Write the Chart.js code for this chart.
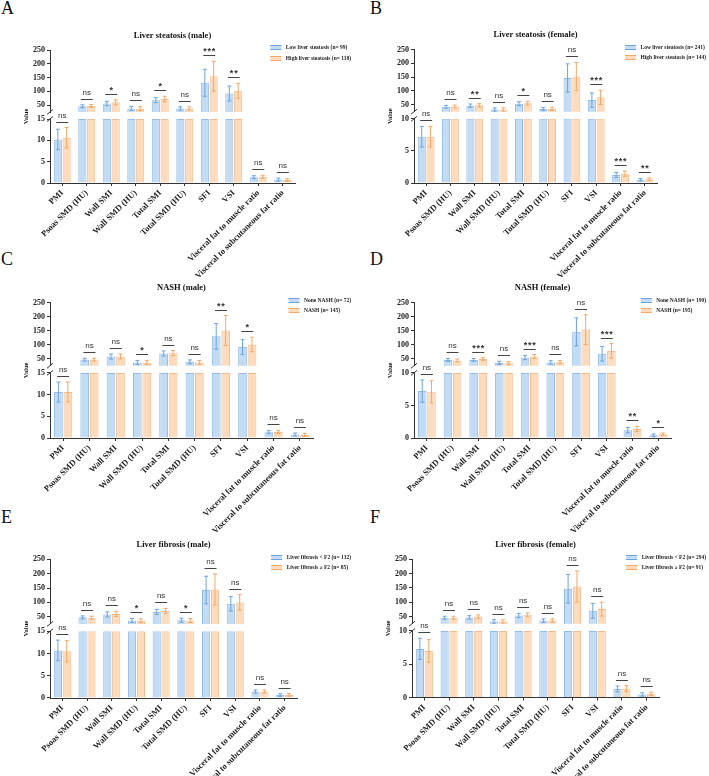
<!DOCTYPE html>
<html>
<head>
<meta charset="utf-8">
<script src="https://cdn.jsdelivr.net/npm/chart.js@4.4.1/dist/chart.umd.min.js"></script>
<style>
html, body { margin: 0; padding: 0; background: #fff; }
body { width: 709px; height: 776px; position: relative; overflow: hidden; }
canvas { position: absolute; }
.letter { position: absolute; font-family: "Liberation Serif", serif; font-size: 18px; line-height: 18px; color: #111; }
</style>
</head>
<body>
<div class="letter" style="left:1px;top:-1px">A</div>
<div class="letter" style="left:370px;top:-1px">B</div>
<div class="letter" style="left:1px;top:250px">C</div>
<div class="letter" style="left:370px;top:250px">D</div>
<div class="letter" style="left:1px;top:508px">E</div>
<div class="letter" style="left:370px;top:508px">F</div>

<canvas id="pA" width="354" height="280" style="left:0;top:0"></canvas>
<canvas id="pB" width="355" height="280" style="left:354px;top:0"></canvas>
<canvas id="pC" width="354" height="280" style="left:0;top:255px"></canvas>
<canvas id="pD" width="355" height="280" style="left:354px;top:255px"></canvas>
<canvas id="pE" width="354" height="280" style="left:0;top:515px"></canvas>
<canvas id="pF" width="355" height="280" style="left:354px;top:515px"></canvas>

<script>
const categories = ['PMI', 'Psoas SMD (HU)', 'Wall SMI', 'Wall SMD (HU)', 'Total SMI', 'Total SMD (HU)', 'SFI', 'VSI',
    'Visceral fat to muscle ratio', 'Visceral to subcutaneous fat ratio'];
const upperTicks = [50, 100, 150, 200, 250];
const upperMin = 25;
const lowerTicksMale = [0, 5, 10, 15];
const lowerTicksFemale = [0, 5, 10];

// A - liver steatosis, male
const steatosisMaleLow = [10.2, 46, 56, 38, 68, 38, 131, 92, 1.35, 0.8];
const steatosisMaleLowSD = [2.4, 5, 8, 7, 9, 6, 49, 27, 0.35, 0.35];
const steatosisMaleHigh = [10.6, 47, 60, 37, 72, 38, 155, 102, 1.45, 0.7];
const steatosisMaleHighSD = [2.4, 5, 9, 7, 10, 6, 54, 27, 0.35, 0.3];
const steatosisMaleSig = ['ns', 'ns', '*', 'ns', '*', 'ns', '***', '**', 'ns', 'ns'];

// B - liver steatosis, female
const steatosisFemaleLow = [7.2, 43, 47, 33, 54, 35, 147, 67, 1.25, 0.5];
const steatosisFemaleLowSD = [1.6, 5, 6, 6, 7, 6, 51, 26, 0.4, 0.2];
const steatosisFemaleHigh = [7.2, 44, 48, 33, 56, 35, 152, 77, 1.45, 0.58];
const steatosisFemaleHighSD = [1.6, 5, 6, 6, 7, 6, 51, 26, 0.4, 0.22];
const steatosisFemaleSig = ['ns', 'ns', '**', 'ns', '*', 'ns', 'ns', '***', '***', '**'];

// C - NASH, male
const nashMaleNone = [10.6, 47, 58, 37, 69, 39, 130, 92, 1.35, 0.8];
const nashMaleNoneSD = [2.3, 5, 9, 7, 9, 7, 46, 26, 0.35, 0.35];
const nashMaleYes = [10.6, 47, 58, 36, 70, 37, 151, 101, 1.4, 0.7];
const nashMaleYesSD = [2.3, 5, 9, 7, 9, 7, 53, 26, 0.35, 0.35];
const nashMaleSig = ['ns', 'ns', 'ns', '*', 'ns', 'ns', '**', '*', 'ns', 'ns'];

// D - NASH, female
const nashFemaleNone = [7.2, 46, 46, 35, 54, 37, 146, 68, 1.2, 0.42];
const nashFemaleNoneSD = [1.7, 5, 5, 6, 7, 6, 50, 26, 0.4, 0.2];
const nashFemaleYes = [7.1, 44, 49, 34, 58, 38, 154, 78, 1.4, 0.57];
const nashFemaleYesSD = [1.7, 5, 5, 6, 7, 6, 53, 26, 0.4, 0.2];
const nashFemaleSig = ['ns', 'ns', '***', 'ns', '***', 'ns', 'ns', '***', '**', '*'];

// E - liver fibrosis, male
const fibrosisMaleLow = [10.7, 48, 58, 37, 67, 38, 143, 95, 1.45, 0.65];
const fibrosisMaleLowSD = [2.3, 5, 9, 7, 9, 7, 48, 25, 0.35, 0.3];
const fibrosisMaleHigh = [10.5, 47, 60, 36, 70, 37, 145, 100, 1.45, 0.7];
const fibrosisMaleHighSD = [2.4, 5, 9, 7, 9, 7, 54, 27, 0.35, 0.3];
const fibrosisMaleSig = ['ns', 'ns', 'ns', '*', 'ns', '*', 'ns', 'ns', 'ns', 'ns'];

// F - liver fibrosis, female
const fibrosisFemaleLow = [7.3, 46, 47, 33, 54, 36, 147, 70, 1.28, 0.46];
const fibrosisFemaleLowSD = [1.6, 5, 6, 6, 7, 6, 50, 26, 0.45, 0.25];
const fibrosisFemaleHigh = [7.0, 46, 50, 33, 56, 36, 155, 76, 1.33, 0.55];
const fibrosisFemaleHighSD = [1.7, 5, 6, 6, 7, 6, 54, 24, 0.45, 0.25];
const fibrosisFemaleSig = ['ns', 'ns', 'ns', 'ns', 'ns', 'ns', 'ns', 'ns', 'ns', 'ns'];

const seriesColors = [
    { fill: '#c3dbf3', line: '#8fbce9', err: '#6ea4dc' },
    { fill: '#fddcbd', line: '#f6bb8c', err: '#f2a868' }
];
const serif = "'Liberation Serif', 'Times New Roman', serif";
const sans = "'Liberation Sans', Arial, sans-serif";

const panels = [
    { id: 'pA', title: 'Liver steatosis (male)',
      labels: ['Low liver steatosis (n= 99)', 'High liver steatosis (n= 118)'],
      means: [steatosisMaleLow, steatosisMaleHigh], sds: [steatosisMaleLowSD, steatosisMaleHighSD],
      sig: steatosisMaleSig, lowerTicks: lowerTicksMale,
      box: { left: 50, right: 295, top: 50, bottom: 183 } },
    { id: 'pB', title: 'Liver steatosis (female)',
      labels: ['Low liver steatosis (n= 241)', 'High liver steatosis (n= 144)'],
      means: [steatosisFemaleLow, steatosisFemaleHigh], sds: [steatosisFemaleLowSD, steatosisFemaleHighSD],
      sig: steatosisFemaleSig, lowerTicks: lowerTicksFemale,
      box: { left: 60, right: 303, top: 49.5, bottom: 183 } },
    { id: 'pC', title: 'NASH (male)',
      labels: ['None NASH (n= 72)', 'NASH (n= 145)'],
      means: [nashMaleNone, nashMaleYes], sds: [nashMaleNoneSD, nashMaleYesSD],
      sig: nashMaleSig, lowerTicks: lowerTicksMale,
      box: { left: 50, right: 313, top: 47.7, bottom: 183 } },
    { id: 'pD', title: 'NASH (female)',
      labels: ['None NASH (n= 190)', 'NASH (n= 195)'],
      means: [nashFemaleNone, nashFemaleYes], sds: [nashFemaleNoneSD, nashFemaleYesSD],
      sig: nashFemaleSig, lowerTicks: lowerTicksFemale,
      box: { left: 60, right: 317, top: 47.7, bottom: 183 } },
    { id: 'pE', title: 'Liver fibrosis (male)',
      labels: ['Liver fibrosis < F2 (n= 132)', 'Liver fibrosis \u2265 F2 (n= 85)'],
      means: [fibrosisMaleLow, fibrosisMaleHigh], sds: [fibrosisMaleLowSD, fibrosisMaleHighSD],
      sig: fibrosisMaleSig, lowerTicks: lowerTicksMale,
      box: { left: 50, right: 297, top: 44.3, bottom: 183 } },
    { id: 'pF', title: 'Liver fibrosis (female)',
      labels: ['Liver fibrosis < F2 (n= 294)', 'Liver fibrosis \u2265 F2 (n= 91)'],
      means: [fibrosisFemaleLow, fibrosisFemaleHigh], sds: [fibrosisFemaleLowSD, fibrosisFemaleHighSD],
      sig: fibrosisFemaleSig, lowerTicks: lowerTicksFemale,
      box: { left: 58, right: 305, top: 44.3, bottom: 182.5 } }
];

// error bars, significance marks, legend, title, axis break
function makeDeco(p) {
    const lowMax = p.lowerTicks[p.lowerTicks.length - 1];
    return {
        id: 'deco',
        afterDatasetsDraw(chart) {
            const ctx = chart.ctx;
            const yLow = chart.scales.yLow, yHigh = chart.scales.yHigh;
            const px = (v, high) => high ? yHigh.getPixelForValue(Math.max(v, upperMin))
                                         : yLow.getPixelForValue(Math.min(v, lowMax));
            ctx.save();
            ctx.lineWidth = 1;
            categories.forEach((c, i) => {
                const xs = [];
                let topPx = Infinity;
                p.means.forEach((m, s) => {
                    const high = m[i] > lowMax;
                    const meta = chart.getDatasetMeta(s * 2 + (high ? 1 : 0));
                    const x = meta.data[i].x;
                    xs.push(x);
                    const y1 = px(m[i] + p.sds[s][i], high);
                    const y2 = px(m[i] - p.sds[s][i], high);
                    topPx = Math.min(topPx, y1);
                    ctx.strokeStyle = seriesColors[s].err;
                    ctx.beginPath();
                    ctx.moveTo(x, y1); ctx.lineTo(x, y2);
                    ctx.moveTo(x - 2, y1); ctx.lineTo(x + 2, y1);
                    if (!(high && m[i] - p.sds[s][i] < upperMin)) {
                        ctx.moveTo(x - 2, y2); ctx.lineTo(x + 2, y2);
                    }
                    ctx.stroke();
                });
                // significance
                const cx = (xs[0] + xs[1]) / 2;
                const ly = Math.round(topPx - 6) + 0.5;
                ctx.strokeStyle = '#444';
                ctx.beginPath();
                ctx.moveTo(cx - 6, ly); ctx.lineTo(cx + 6, ly);
                ctx.stroke();
                ctx.fillStyle = '#333';
                ctx.textAlign = 'center';
                ctx.textBaseline = 'alphabetic';
                if (p.sig[i] === 'ns') {
                    ctx.font = '8px ' + sans;
                    ctx.fillText('ns', cx, ly - 4.5);
                } else {
                    ctx.font = 'bold 9px ' + sans;
                    ctx.fillText(p.sig[i].split('').join('\u200a'), cx, ly - 1.5);
                }
            });
            ctx.restore();
        },
        afterDraw(chart) {
            const ctx = chart.ctx;
            const a = chart.chartArea;
            const yLow = chart.scales.yLow, yHigh = chart.scales.yHigh;
            ctx.save();
            // axis break marks
            ctx.strokeStyle = '#333';
            ctx.lineWidth = 1;
            ctx.beginPath();
            [yHigh.bottom, yLow.top].forEach(y => {
                ctx.moveTo(a.left - 3, y + 2.5);
                ctx.lineTo(a.left + 3, y - 2.5);
            });
            ctx.stroke();
            // title
            ctx.fillStyle = '#111';
            ctx.textAlign = 'center';
            ctx.textBaseline = 'middle';
            ctx.font = 'bold 8.5px ' + serif;
            ctx.fillText(p.title, (a.left + a.right) / 2, a.top - 14.5);
            // y title
            ctx.save();
            ctx.translate(a.left - 24, (a.top + a.bottom) / 2);
            ctx.rotate(-Math.PI / 2);
            ctx.font = 'bold 6.5px ' + serif;
            ctx.fillText('Value', 0, 0);
            ctx.restore();
            // legend
            ctx.font = 'bold 5.5px ' + serif;
            ctx.textAlign = 'left';
            const tw = Math.max(...p.labels.map(l => ctx.measureText(l).width));
            const tx = chart.width - 3 - tw;
            const bx = tx - 4.5 - 11;
            p.labels.forEach((l, s) => {
                const y = Math.round(a.top - 2.8 + s * 10.5);
                ctx.fillStyle = seriesColors[s].fill;
                ctx.fillRect(bx, y - 2, 11, 4);
                ctx.strokeStyle = seriesColors[s].err;
                ctx.beginPath();
                ctx.moveTo(bx, y - 1.5); ctx.lineTo(bx + 11, y - 1.5);
                ctx.moveTo(bx, y + 2.5); ctx.lineTo(bx + 11, y + 2.5);
                ctx.stroke();
                ctx.fillStyle = '#222';
                ctx.fillText(l, tx, y + 0.5);
            });
            ctx.restore();
        }
    };
}

function axisStyle(size) {
    return {
        grid: { display: true, drawOnChartArea: false, drawTicks: true, tickLength: 3, color: '#333', lineWidth: 1 },
        border: { display: true, color: '#333', width: 1 },
        ticks: { color: '#222', padding: 2, font: { family: serif, size: size, weight: 'bold' } }
    };
}

panels.forEach(p => {
    const canvas = document.getElementById(p.id);
    const W = canvas.width, H = canvas.height;
    const lowMax = p.lowerTicks[p.lowerTicks.length - 1];
    const datasets = [];
    p.means.forEach((m, s) => {
        const base = {
            label: p.labels[s],
            backgroundColor: seriesColors[s].fill,
            borderColor: seriesColors[s].line,
            borderWidth: 1,
            stack: 'g' + s,
            categoryPercentage: 0.72,
            barPercentage: 0.92
        };
        datasets.push(Object.assign({}, base, { yAxisID: 'yLow', data: m.map(v => Math.min(v, lowMax)) }));
        datasets.push(Object.assign({}, base, { yAxisID: 'yHigh', data: m.map(v => v > lowMax ? v : null) }));
    });

    const yW = 30;
    const x = axisStyle(8.5);
    x.grid.offset = false;
    x.ticks.autoSkip = false;
    x.ticks.minRotation = 45;
    x.ticks.maxRotation = 45;
    x.afterFit = s => { s.height = H - p.box.bottom; };

    const yLow = axisStyle(8);
    Object.assign(yLow, {
        type: 'linear', position: 'left', stack: 'v', stackWeight: 64, weight: 1, stacked: false,
        min: 0, max: lowMax,
        afterBuildTicks: s => { s.ticks = p.lowerTicks.map(v => ({ value: v })); },
        afterFit: s => { s.width = yW; }
    });
    const yGap = {
        type: 'linear', position: 'left', stack: 'v', stackWeight: 7, weight: 2, min: 0, max: 1,
        grid: { display: false }, border: { display: false }, ticks: { display: false },
        afterFit: s => { s.width = yW; }
    };
    const yHigh = axisStyle(8);
    Object.assign(yHigh, {
        type: 'linear', position: 'left', stack: 'v', stackWeight: 62, weight: 3, stacked: false,
        min: upperMin, max: 250,
        afterBuildTicks: s => { s.ticks = upperTicks.map(v => ({ value: v })); },
        afterFit: s => { s.width = yW; }
    });

    new Chart(canvas.getContext('2d'), {
        type: 'bar',
        data: { labels: categories, datasets: datasets },
        options: {
            responsive: false,
            animation: false,
            layout: { padding: { left: p.box.left - yW, right: W - p.box.right, top: p.box.top, bottom: 0 } },
            plugins: { legend: { display: false }, title: { display: false }, tooltip: { enabled: false } },
            scales: { x: x, yLow: yLow, yGap: yGap, yHigh: yHigh }
        },
        plugins: [makeDeco(p)]
    });
});
</script>
</body>
</html>
